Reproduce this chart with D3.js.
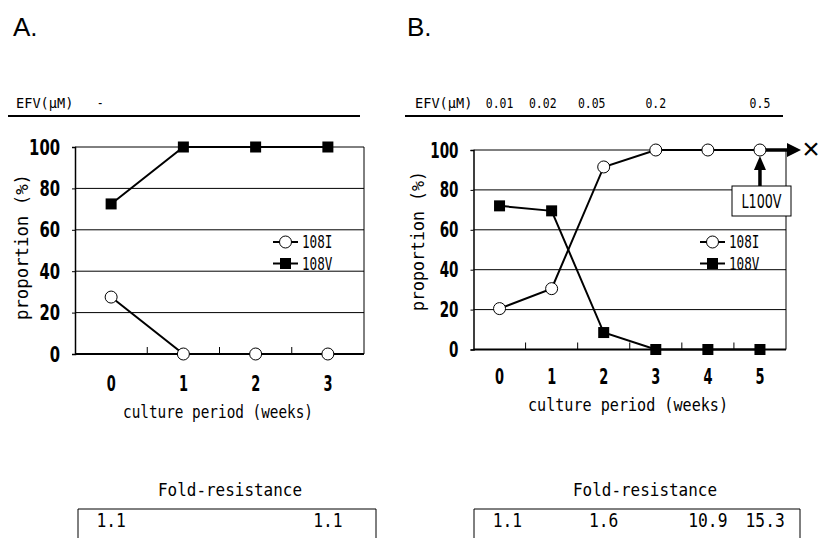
<!DOCTYPE html>
<html>
<head>
<meta charset="utf-8">
<script src="https://d3js.org/d3.v7.min.js"></script>
<style>
  html, body { margin: 0; padding: 0; background: #fff; }
  svg { display: block; }
  .mono { font-family: "DejaVu Sans Mono", "Liberation Mono", monospace; }
  .narrow { font-family: "Liberation Sans Narrow", "DejaVu Sans Condensed", "Liberation Sans", sans-serif; }
</style>
</head>
<body>
<script>
"use strict";
// data
const weeksA = [0, 1, 2, 3];
const i108A = [27.5, 0, 0, 0];
const v108A = [72.5, 100, 100, 100];

const weeksB = [0, 1, 2, 3, 4, 5];
const i108B = [20.5, 30.5, 91.5, 100, 100, 100];
const v108B = [72, 69.5, 8.5, 0, 0, 0];

const yTicks = [0, 20, 40, 60, 80, 100];

const efvA = ["-"];
const efvWeekA = [-0.15];
const efvB = ["0.01", "0.02", "0.05", "0.2", "0.5"];
const efvWeekB = [0, 0.83, 1.77, 3, 5];

const foldA = ["1.1", "1.1"];
const foldWeekA = [0, 3];
const foldB = ["1.1", "1.6", "10.9", "15.3"];
const foldWeekB = [0.15, 2, 4, 5.1];

const W = 822, H = 538;
const svg = d3.select("body").append("svg").attr("width", W).attr("height", H);

function fit(sel, perChar) {
  sel.attr("textLength", function () { return this.textContent.length * perChar; })
     .attr("lengthAdjust", "spacingAndGlyphs");
  return sel;
}

function panel(cfg) {
  const g = svg.append("g");
  const x = d3.scaleBand().domain(cfg.weeks).range(cfg.xr);
  const bw = x.bandwidth();
  const cx = (w) => x(cfg.weeks[0]) + bw / 2 + w * bw;   // week -> px (also fractional)
  const y = d3.scaleLinear().domain([0, 100]).range(cfg.yr);
  const [x0, x1] = cfg.xr;

  // panel letter
  g.append("text").attr("x", cfg.letterX).attr("y", 36)
    .attr("font-family", "Liberation Sans, Arial, sans-serif").attr("font-size", 26)
    .text(cfg.letter);

  // EFV header + rule
  fit(g.append("text").attr("class", "mono").attr("x", cfg.efvX).attr("y", 108)
    .attr("font-size", 14).text("EFV(μM)"), 8.2);
  g.selectAll(".efv").data(cfg.efv).join("text").attr("class", "mono")
    .attr("x", (d, i) => cx(cfg.efvWeek[i])).attr("y", 108)
    .attr("text-anchor", "middle").attr("font-size", 14)
    .text((d) => d).call(fit, 6.9);
  g.append("line").attr("x1", cfg.ruleX[0]).attr("x2", cfg.ruleX[1])
    .attr("y1", 116).attr("y2", 116).attr("stroke", "#000").attr("stroke-width", 2);

  // gridlines
  g.append("g").selectAll("line").data(yTicks.filter((t) => t > 0)).join("line")
    .attr("x1", x0).attr("x2", x1).attr("y1", (d) => y(d)).attr("y2", (d) => y(d))
    .attr("stroke", "#000").attr("stroke-width", 1);
  // right border
  g.append("line").attr("x1", x1).attr("x2", x1).attr("y1", y(100)).attr("y2", y(0))
    .attr("stroke", "#000").attr("stroke-width", 1);

  // y axis
  const ya = g.append("g").attr("transform", `translate(${x0},0)`)
    .call(d3.axisLeft(y).tickValues(yTicks).tickSize(3).tickPadding(12));
  ya.select(".domain").attr("stroke-width", 1.5);
  ya.selectAll("text").attr("class", "narrow").attr("font-size", 22).attr("font-weight", "bold")
    .attr("fill", "#000").attr("font-family", null).call(fit, cfg.tickW);

  // x axis: ticks between bands, pointing inward
  g.append("line").attr("x1", x0).attr("x2", x1).attr("y1", y(0)).attr("y2", y(0))
    .attr("stroke", "#000").attr("stroke-width", 2);
  g.append("g").selectAll("line").data(cfg.weeks.slice(1)).join("line")
    .attr("x1", (d) => x(d)).attr("x2", (d) => x(d))
    .attr("y1", y(0)).attr("y2", y(0) - 7).attr("stroke", "#000").attr("stroke-width", 1);
  g.append("g").selectAll("text").data(cfg.weeks).join("text").attr("class", "narrow")
    .attr("x", (d) => cx(d)).attr("y", cfg.xLabelY).attr("text-anchor", "middle")
    .attr("font-size", 22).attr("font-weight", "bold").text((d) => d).call(fit, 9);

  // axis titles
  fit(g.append("text").attr("class", "mono").attr("x", cfg.xTitle[0]).attr("y", cfg.xTitle[1])
    .attr("text-anchor", "middle").attr("font-size", 17).text("culture period (weeks)"), cfg.xTitleW / 22);
  fit(g.append("text").attr("class", "mono")
    .attr("transform", `translate(${cfg.yTitle[0]},${cfg.yTitle[1]}) rotate(-90)`)
    .attr("text-anchor", "middle").attr("font-size", 17).text("proportion (%)"), cfg.yTitleW / 14);

  // series lines
  const line = d3.line().x((d, i) => cx(cfg.weeks[i])).y((d) => y(d));
  [cfg.i108, cfg.v108].forEach((s) => {
    g.append("path").attr("d", line(s)).attr("fill", "none")
      .attr("stroke", "#000").attr("stroke-width", 2);
  });

  if (cfg.extra) cfg.extra(g, cx, y);

  // markers
  g.append("g").selectAll("rect").data(cfg.v108).join("rect")
    .attr("x", (d, i) => cx(cfg.weeks[i]) - 5.5).attr("y", (d) => y(d) - 5.5)
    .attr("width", 11).attr("height", 11).attr("fill", "#000");
  g.append("g").selectAll("circle").data(cfg.i108).join("circle")
    .attr("cx", (d, i) => cx(cfg.weeks[i])).attr("cy", (d) => y(d)).attr("r", 6)
    .attr("fill", "#fff").attr("stroke", "#000").attr("stroke-width", 1);

  // legend
  const lg = g.append("g").attr("transform", `translate(${cfg.legend[0]},${cfg.legend[1]})`);
  [["108I", "c"], ["108V", "s"]].forEach(([name, m], k) => {
    const yy = k * 21.5;
    lg.append("line").attr("x1", 0).attr("x2", 25).attr("y1", yy).attr("y2", yy)
      .attr("stroke", "#000").attr("stroke-width", 2);
    if (m === "c") lg.append("circle").attr("cx", 12.5).attr("cy", yy).attr("r", 6)
      .attr("fill", "#fff").attr("stroke", "#000");
    else lg.append("rect").attr("x", 7).attr("y", yy - 5.5).attr("width", 11).attr("height", 11);
    fit(lg.append("text").attr("class", "mono").attr("x", 29).attr("y", yy + 6)
      .attr("font-size", 17).text(name), 7.6);
  });

  // fold-resistance table
  fit(g.append("text").attr("class", "mono").attr("x", cfg.foldTitleX).attr("y", 496)
    .attr("text-anchor", "middle").attr("font-size", 18).text("Fold-resistance"), 9.6);
  g.append("path").attr("d", `M${cfg.box[0]},${H}V509H${cfg.box[1]}V${H}`)
    .attr("fill", "none").attr("stroke", "#000").attr("stroke-width", 1);
  g.append("g").selectAll("text").data(cfg.fold).join("text").attr("class", "mono")
    .attr("x", (d, i) => cx(cfg.foldWeek[i])).attr("y", 527).attr("text-anchor", "middle")
    .attr("font-size", 20).text((d) => d).call(fit, 9.8);
}

panel({
  letter: "A.", letterX: 13,
  weeks: weeksA, i108: i108A, v108: v108A,
  xr: [75, 364], yr: [354, 147],
  efvX: 16, efv: efvA, efvWeek: efvWeekA, ruleX: [8, 360],
  tickW: 10.3, xLabelY: 391,
  xTitle: [218, 418], xTitleW: 190,
  yTitle: [28, 247], yTitleW: 146,
  legend: [273, 242],
  foldTitleX: 230, box: [78, 376], fold: foldA, foldWeek: foldWeekA
});

panel({
  letter: "B.", letterX: 407,
  weeks: weeksB, i108: i108B, v108: v108B,
  xr: [473.5, 786], yr: [349.5, 150],
  efvX: 415, efv: efvB, efvWeek: efvWeekB, ruleX: [405, 783],
  tickW: 9.4, xLabelY: 384,
  xTitle: [628, 411], xTitleW: 200,
  yTitle: [424, 241], yTitleW: 140,
  legend: [700, 242],
  foldTitleX: 645, box: [474, 800], fold: foldB, foldWeek: foldWeekB,
  extra: (g, cx, y) => {
    const px = cx(5), py = y(100);
    // arrow continuing to the right
    g.append("line").attr("x1", px).attr("x2", 789).attr("y1", py).attr("y2", py)
      .attr("stroke", "#000").attr("stroke-width", 3.5);
    g.append("path").attr("d", `M787,${py - 7}L801,${py}L787,${py + 7}Z`).attr("fill", "#000");
    g.append("text").attr("x", 811).attr("y", py + 9).attr("text-anchor", "middle")
      .attr("font-family", "Liberation Sans, Arial, sans-serif").attr("font-size", 30).text("×");
    // L100V callout
    g.append("line").attr("x1", px).attr("x2", px).attr("y1", 186).attr("y2", py + 18)
      .attr("stroke", "#000").attr("stroke-width", 3.5);
    g.append("path").attr("d", `M${px - 6},${py + 20}L${px},${py + 6}L${px + 6},${py + 20}Z`).attr("fill", "#000");
    g.append("rect").attr("x", 732).attr("y", 186).attr("width", 59).attr("height", 30)
      .attr("fill", "#fff").attr("stroke", "#000").attr("stroke-width", 1);
    fit(g.append("text").attr("class", "narrow").attr("x", 761.5).attr("y", 208)
      .attr("text-anchor", "middle").attr("font-size", 20).text("L100V"), 8);
  }
});
</script>
</body>
</html>
